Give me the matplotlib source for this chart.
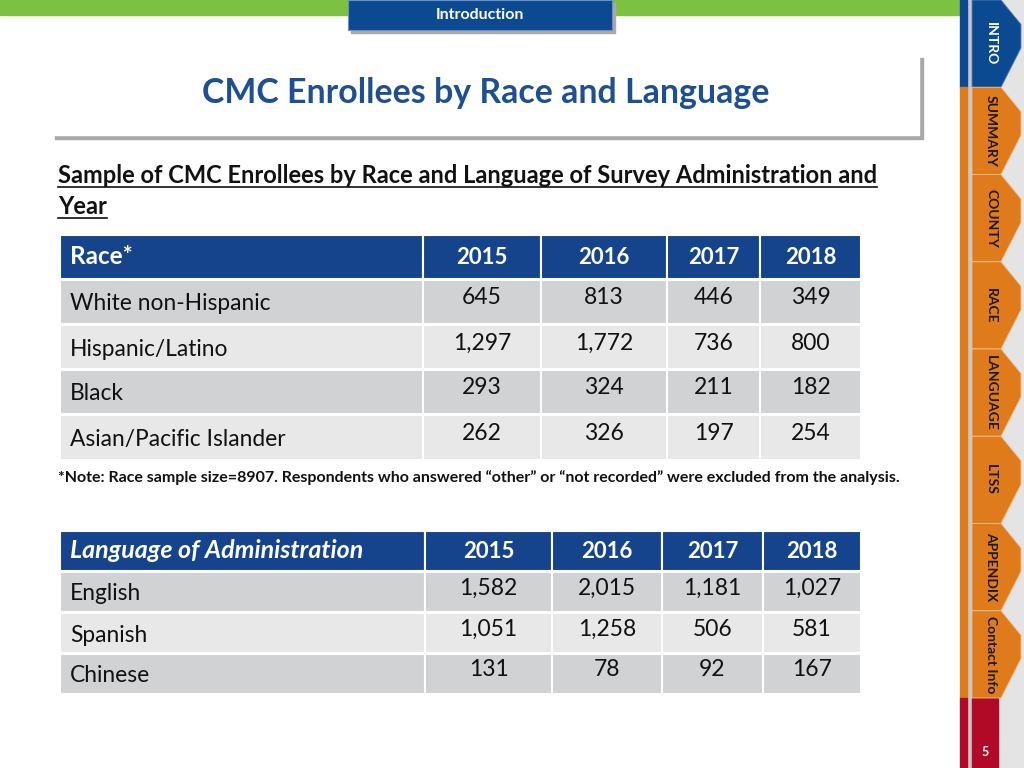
import matplotlib

matplotlib.use("Agg")
import matplotlib.pyplot as plt
from matplotlib.patches import Rectangle, Polygon

plt.rcParams["font.family"] = ["Lato", "DejaVu Sans"]

# data
years = ["2015", "2016", "2017", "2018"]
race_labels = ["White non-Hispanic", "Hispanic/Latino", "Black", "Asian/Pacific Islander"]
race_2015 = [645, 1297, 293, 262]
race_2016 = [813, 1772, 324, 326]
race_2017 = [446, 736, 211, 197]
race_2018 = [349, 800, 182, 254]
lang_labels = ["English", "Spanish", "Chinese"]
lang_2015 = [1582, 1051, 131]
lang_2016 = [2015, 1258, 78]
lang_2017 = [1181, 506, 92]
lang_2018 = [1027, 581, 167]
tabs = ["INTRO", "SUMMARY", "COUNTY", "RACE", "LANGUAGE", "LTSS", "APPENDIX", "Contact Info"]
page_no = "5"

NAVY = "#15448c"
BLUE = "#0b4a91"
ORANGE = "#e07b1c"
GREEN = "#7cc142"
RED = "#b00a27"
DARK = "#d1d2d3"
LIGHT = "#e8e8e9"

fig = plt.figure(figsize=(10.24, 7.68), dpi=100)
ax = fig.add_axes([0, 0, 1, 1])
ax.set_xlim(0, 1024)
ax.set_ylim(768, 0)
ax.axis("off")

# top banner
ax.add_patch(Rectangle((0, 0), 960, 15, color=GREEN, zorder=1))
ax.add_patch(Rectangle((351, 3), 264, 30, color="#a9a9a9", zorder=2))
ax.add_patch(Rectangle((348, 0), 264, 30, facecolor=BLUE, edgecolor="#6f8fbf", lw=0.8, zorder=3))
ax.text(480, 15, "Introduction", color="white", fontsize=11.5, fontweight="bold",
        ha="center", va="center", zorder=4)

# title box with shadow
ax.add_patch(Rectangle((55, 58), 868, 81, color="#a8a8a8", zorder=1))
ax.add_patch(Rectangle((52, 55), 867, 80, color="white", zorder=2))
ax.text(486, 93, "CMC Enrollees by Race and Language", color="#1d4f91", fontsize=24.4,
        fontweight="bold", ha="center", va="center", zorder=3)

# subtitle (underlined)
sub_lines = ["Sample of CMC Enrollees by Race and Language of Survey Administration and", "Year"]
fig.canvas.draw()
renderer = fig.canvas.get_renderer()
inv = ax.transData.inverted()
for i, line in enumerate(sub_lines):
    t = ax.text(58, 183 + i * 31, line, fontsize=17, fontweight="bold", color="#111111",
                ha="left", va="baseline")
    bb = t.get_window_extent(renderer)
    (x0, _), (x1, _) = inv.transform([[bb.x0, bb.y0], [bb.x1, bb.y0]])
    ax.plot([x0, x1], [187 + i * 31, 187 + i * 31], color="#111111", lw=1.2)


def draw_table(header, row_labels, cols, col_edges, header_y, row_edges, italic=False, hsize=17.5):
    # header
    for j in range(len(col_edges) - 1):
        ax.add_patch(Rectangle((col_edges[j], header_y[0]), col_edges[j + 1] - col_edges[j],
                               header_y[1] - header_y[0], facecolor=NAVY, edgecolor="white", lw=1.5))
    hy = (header_y[0] + header_y[1]) / 2
    ax.text(col_edges[0] + 10, hy, header, color="white", fontsize=hsize, fontweight="bold",
            style="italic" if italic else "normal", ha="left", va="center")
    for j, yr in enumerate(years):
        ax.text((col_edges[j + 1] + col_edges[j + 2]) / 2, hy, yr, color="white", fontsize=16,
                fontweight="bold", ha="center", va="center")
    # body
    for i, lab in enumerate(row_labels):
        y0, y1 = row_edges[i]
        fill = DARK if i % 2 == 0 else LIGHT
        for j in range(len(col_edges) - 1):
            ax.add_patch(Rectangle((col_edges[j], y0), col_edges[j + 1] - col_edges[j], y1 - y0,
                                   facecolor=fill, edgecolor="white", lw=1.5))
        yc = (y0 + y1) / 2
        ax.text(col_edges[0] + 10, yc + 2, lab, color="#111111", fontsize=16.4, ha="left", va="center")
        for j, col in enumerate(cols):
            ax.text((col_edges[j + 1] + col_edges[j + 2]) / 2, yc - 4, f"{col[i]:,}",
                    color="#111111", fontsize=16.5, ha="center", va="center")


draw_table("Race*", race_labels, [race_2015, race_2016, race_2017, race_2018],
           [60, 423, 541, 667, 760, 861], (235, 279),
           [(280, 324), (325, 369), (370, 414), (415, 460)])

ax.text(58, 478, "*Note: Race sample size=8907. Respondents who answered \u201cother\u201d or "
        "\u201cnot recorded\u201d were excluded from the analysis.",
        fontsize=11.5, fontweight="bold", color="#111111", ha="left", va="center")

draw_table("Language of Administration", lang_labels, [lang_2015, lang_2016, lang_2017, lang_2018],
           [60, 425, 552, 662, 763, 861], (531, 571),
           [(572, 612), (613, 653), (654, 694)], italic=True, hsize=18)

# right navigation sidebar
ax.add_patch(Rectangle((972, 0), 52, 768, color="#e4e4e4", zorder=0))
ax.add_patch(Rectangle((967, 0), 5, 768, color="#c8c8c8", zorder=1))
n = len(tabs)
tab_h = 698 / n
for k, name in enumerate(tabs):
    t0 = k * tab_h
    t1 = t0 + tab_h
    col = BLUE if k == 0 else ORANGE
    ax.add_patch(Rectangle((960, t0), 7, tab_h, color=col, zorder=2))
    poly = [(972, t0), (1001, t0), (1021, t0 + 0.28 * tab_h), (1021, t0 + 0.55 * tab_h),
            (1001, t1), (972, t1)]
    ax.add_patch(Polygon(poly, closed=True, facecolor=col, edgecolor="#f0c090" if k else "#5f7fb5",
                         lw=0.6, zorder=3))
    ax.text(991, t0 + 0.5 * tab_h, name, rotation=270, fontsize=10, fontweight="bold",
            color="white" if k == 0 else "#1a1a1a", ha="center", va="center", zorder=4)
ax.add_patch(Rectangle((960, 698), 7, 70, color=RED, zorder=2))
ax.add_patch(Rectangle((972, 698), 26, 70, color=RED, zorder=2))
ax.text(985, 752, page_no, color="white", fontsize=9, fontweight="bold",
        ha="center", va="center", zorder=4)

fig.savefig("out.png", dpi=100)
